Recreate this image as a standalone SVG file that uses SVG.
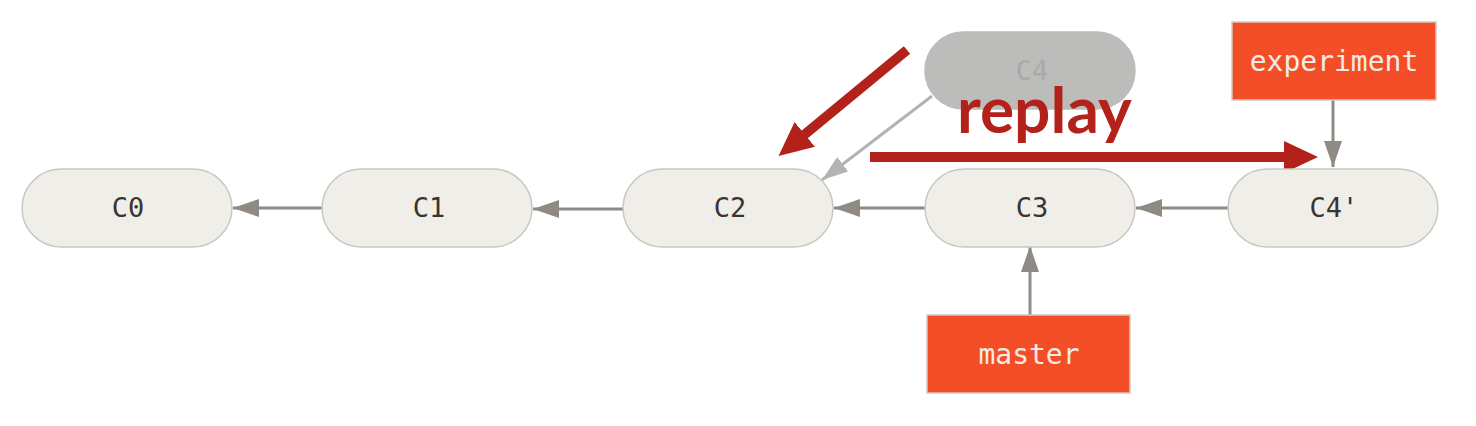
<svg xmlns="http://www.w3.org/2000/svg" width="1476" height="426" viewBox="0 0 1476 426">
<defs>
<style>
.node rect{fill:#efeee8;stroke:#c9c7c0;stroke-width:1.5}
.node text{font-family:"DejaVu Sans Mono","Liberation Mono",monospace;font-size:27px;fill:#3a3430;text-anchor:middle}
.ghost rect{fill:#bcbcba;stroke:#bcbcba;stroke-width:1.5}
.ghost text{font-family:"DejaVu Sans Mono","Liberation Mono",monospace;font-size:27px;fill:#a9a9a7;text-anchor:middle}
.ref rect{fill:#f44e28;stroke:#d9c8be;stroke-width:1.5}
.ref text{font-family:"DejaVu Sans Mono","Liberation Mono",monospace;font-size:28px;fill:#f3ebe4;text-anchor:middle}
.edge{stroke:#8f8a84;stroke-width:3;fill:none}
.gedge{stroke:#b3b3b1;stroke-width:3;fill:none}
.red{stroke:#b2221a;stroke-width:10;fill:none}
</style>
<marker id="ah" viewBox="0 0 26 18" refX="26" refY="9" markerWidth="26" markerHeight="18" markerUnits="userSpaceOnUse" orient="auto">
<path d="M0,0 L26,9 L0,18 Z" fill="#8f8a84"/>
</marker>
<marker id="gah" viewBox="0 0 26 18" refX="26" refY="9" markerWidth="26" markerHeight="18" markerUnits="userSpaceOnUse" orient="auto">
<path d="M0,0 L26,9 L0,18 Z" fill="#b3b3b1"/>
</marker>
<marker id="rah" viewBox="0 0 34 32" refX="1" refY="16" markerWidth="34" markerHeight="32" markerUnits="userSpaceOnUse" orient="auto">
<path d="M0,0 L34,16 L0,32 Z" fill="#b2221a"/>
</marker>
</defs>
<g id="edges">
<line class="edge" x1="322" y1="208" x2="233" y2="208" marker-end="url(#ah)"/>
<line class="edge" x1="623" y1="209" x2="533" y2="209" marker-end="url(#ah)"/>
<line class="edge" x1="925" y1="208" x2="834" y2="208" marker-end="url(#ah)"/>
<line class="edge" x1="1228" y1="208" x2="1136" y2="208" marker-end="url(#ah)"/>
<line class="gedge" x1="932" y1="96" x2="822" y2="180" marker-end="url(#gah)"/>
<line class="edge" x1="1333" y1="100" x2="1333" y2="167" marker-end="url(#ah)"/>
<line class="edge" x1="1030" y1="315" x2="1030" y2="246" marker-end="url(#ah)"/>
<line class="red" x1="907" y1="50" x2="804" y2="135" marker-end="url(#rah)"/>
<line class="red" x1="870" y1="157" x2="1285" y2="157" marker-end="url(#rah)"/>
</g>
<g id="C0" class="node"><rect x="22" y="169" width="210" height="78" rx="39"/><text x="128" y="217">C0</text></g>
<g id="C1" class="node"><rect x="322" y="169" width="210" height="78" rx="39"/><text x="429" y="217">C1</text></g>
<g id="C2" class="node"><rect x="623" y="169" width="210" height="78" rx="39"/><text x="730" y="217">C2</text></g>
<g id="C3" class="node"><rect x="925" y="169" width="210" height="78" rx="39"/><text x="1032" y="217">C3</text></g>
<g id="C4p" class="node"><rect x="1228" y="169" width="210" height="78" rx="39"/><text x="1334" y="217">C4'</text></g>
<g id="C4" class="ghost"><rect x="925" y="32" width="210" height="77" rx="38.5"/><text x="1032" y="80">C4</text></g>
<g id="experiment" class="ref"><rect x="1232" y="22" width="204" height="78"/><text x="1334" y="71">experiment</text></g>
<g id="master" class="ref"><rect x="927" y="315" width="203" height="78"/><text x="1029" y="364">master</text></g>
<text x="957" y="133" font-family="Lato,'Open Sans',sans-serif" font-weight="bold" font-size="64" fill="#b2221a">replay</text>
</svg>
